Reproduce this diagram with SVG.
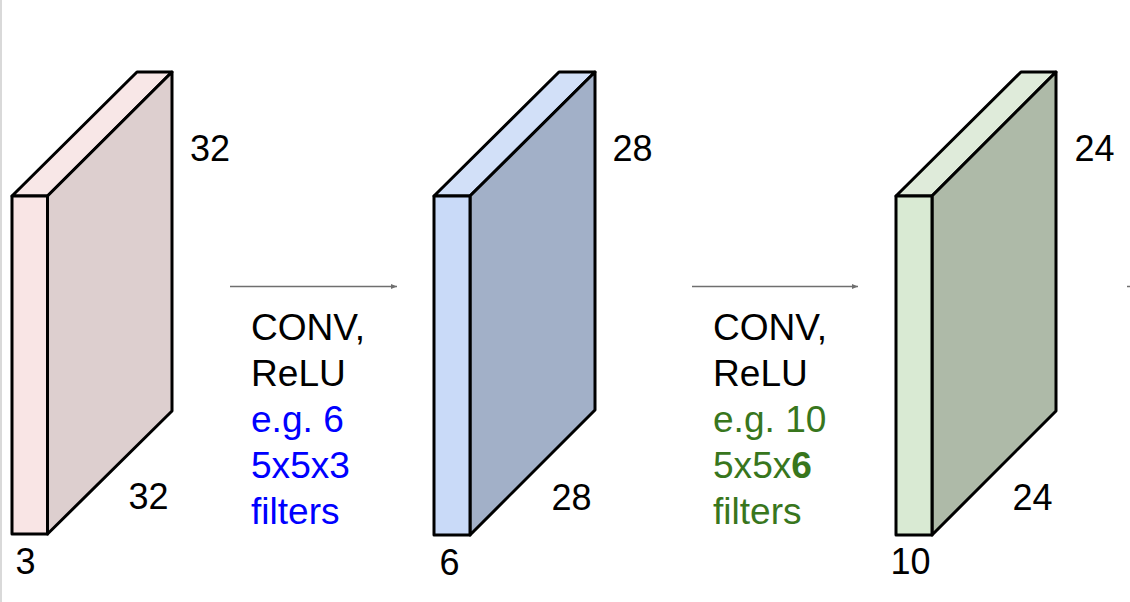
<svg xmlns="http://www.w3.org/2000/svg" width="1130" height="602" viewBox="0 0 1130 602">
  <defs>
    <style>
      .edge { stroke: #000; stroke-width: 3; stroke-linejoin: round; }
      .num { font-family: "Liberation Sans", Arial, sans-serif; font-size: 36px; fill: #000; }
      .lbl { font-family: "Liberation Sans", Arial, sans-serif; font-size: 36px; }
      .conn { stroke: #6f6f6f; stroke-width: 1.5; fill: none; }
    </style>
    <marker id="arrow" viewBox="0 0 10 8" refX="10" refY="4" markerWidth="6" markerHeight="5" markerUnits="userSpaceOnUse" orient="auto">
      <path d="M0,0 L10,4 L0,8 Z" fill="#6f6f6f"/>
    </marker>
  </defs>
  <rect x="0" y="0" width="1130" height="602" fill="#ffffff"/>
  <rect x="0" y="0" width="2" height="602" fill="#d9d9d9"/>

  <g id="connectors">
    <line class="conn" x1="230" y1="286.5" x2="397" y2="286.5" marker-end="url(#arrow)"/>
    <line class="conn" x1="692" y1="286.5" x2="858" y2="286.5" marker-end="url(#arrow)"/>
    <line class="conn" x1="1127" y1="286.5" x2="1130" y2="286.5"/>
  </g>

  <g id="volume1">
    <polygon class="edge" points="12,196 137,72 172,72 47.5,196" fill="#f8e7e7"/>
    <polygon class="edge" points="47.5,196 172,72 172,411 47.5,534" fill="#ddcfcf"/>
    <rect class="edge" x="12" y="196" width="35.5" height="338" fill="#f9e5e5"/>
    <text class="num" x="190" y="161">32</text>
    <text class="num" x="128.5" y="509">32</text>
    <text class="num" x="15.5" y="574">3</text>
  </g>

  <g id="label1">
    <text class="lbl" fill="#000" transform="translate(251,340) scale(1.03,1)">CONV,</text>
    <text class="lbl" fill="#000" transform="translate(251,386) scale(1.03,1)">ReLU</text>
    <text class="lbl" fill="#0000ff" transform="translate(251,432) scale(1.03,1)">e.g. 6</text>
    <text class="lbl" fill="#0000ff" transform="translate(251,478) scale(1.03,1)">5x5x3</text>
    <text class="lbl" fill="#0000ff" transform="translate(251,524) scale(1.03,1)">filters</text>
  </g>

  <g id="volume2">
    <polygon class="edge" points="434,196 559,72 595,72 470,196" fill="#d2e0f8"/>
    <polygon class="edge" points="470,196 595,72 595,410 470,535" fill="#a2b0c8"/>
    <rect class="edge" x="434" y="196" width="36" height="339" fill="#c9daf8"/>
    <text class="num" x="612.5" y="161">28</text>
    <text class="num" x="551.5" y="510">28</text>
    <text class="num" x="439.5" y="575">6</text>
  </g>

  <g id="label2">
    <text class="lbl" fill="#000" transform="translate(713,340) scale(1.03,1)">CONV,</text>
    <text class="lbl" fill="#000" transform="translate(713,386) scale(1.03,1)">ReLU</text>
    <text class="lbl" fill="#38761d" transform="translate(713,432) scale(1.03,1)">e.g. 10</text>
    <text class="lbl" fill="#38761d" transform="translate(713,478) scale(1.03,1)">5x5x<tspan font-weight="bold">6</tspan></text>
    <text class="lbl" fill="#38761d" transform="translate(713,524) scale(1.03,1)">filters</text>
  </g>

  <g id="volume3">
    <polygon class="edge" points="896,196 1021,72 1056,72 932,196" fill="#dfebda"/>
    <polygon class="edge" points="932,196 1056,72 1056,411 932,535" fill="#aebaa8"/>
    <rect class="edge" x="896" y="196" width="36" height="339" fill="#d9ead3"/>
    <text class="num" x="1074.5" y="161">24</text>
    <text class="num" x="1012.5" y="510">24</text>
    <text class="num" x="890.5" y="574">10</text>
  </g>
</svg>
